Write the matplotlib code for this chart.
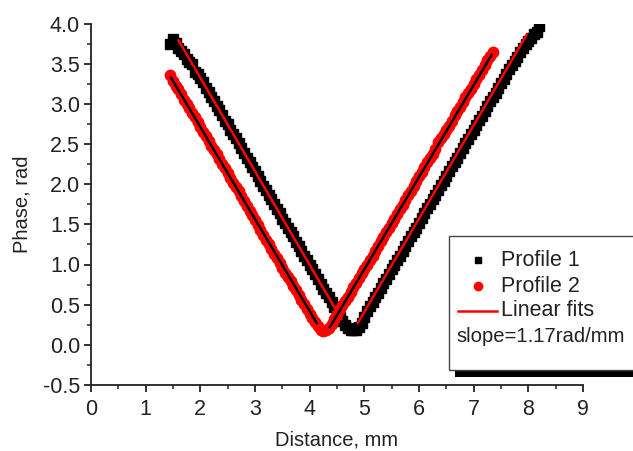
import numpy as np
import matplotlib
matplotlib.use("Agg")
import matplotlib.pyplot as plt
from matplotlib.lines import Line2D
from matplotlib.patches import Rectangle

plt.rcParams['font.family'] = ['Liberation Sans', 'DejaVu Sans']

# ---------------- data ----------------
# Profile 1 (black squares): sampled every 0.05 mm starting at 1.45 mm
p1_x_start = 1.45
p1_x_step = 0.05
p1_y = [
    3.74, 3.81, 3.76, 3.70, 3.66, 3.62, 3.56, 3.52, 3.49, 3.40,
    3.37, 3.32, 3.27, 3.20, 3.15, 3.09, 3.04, 2.97, 2.92, 2.86,
    2.79, 2.75, 2.68, 2.62, 2.57, 2.51, 2.45, 2.39, 2.33, 2.28,
    2.21, 2.16, 2.10, 2.04, 1.98, 1.93, 1.86, 1.81, 1.75, 1.69,
    1.64, 1.57, 1.52, 1.46, 1.40, 1.35, 1.28, 1.23, 1.17, 1.11,
    1.05, 0.99, 0.94, 0.88, 0.82, 0.76, 0.70, 0.65, 0.59, 0.53,
    0.47, 0.41, 0.35, 0.30, 0.25, 0.21, 0.19, 0.18, 0.19, 0.22,
    0.27,
    0.35, 0.42, 0.48, 0.53, 0.59, 0.65, 0.71, 0.77, 0.82, 0.88,
    0.94, 1.00, 1.06, 1.11, 1.17, 1.23, 1.29, 1.35, 1.41, 1.46,
    1.52, 1.58, 1.64, 1.70, 1.75, 1.81, 1.87, 1.93, 1.99, 2.04,
    2.10, 2.16, 2.22, 2.28, 2.33, 2.39, 2.45, 2.51, 2.56, 2.62,
    2.68, 2.74, 2.80, 2.85, 2.91, 2.97, 3.03, 3.09, 3.14, 3.20,
    3.26, 3.31, 3.37, 3.43, 3.48, 3.53, 3.58, 3.64, 3.69, 3.74,
    3.78, 3.82, 3.87, 3.90, 3.97,
]

# Profile 2 (red circles): sampled every 0.05 mm starting at 1.45 mm
p2_x_start = 1.45
p2_x_step = 0.05
p2_y = [
    3.36, 3.29, 3.22, 3.18, 3.12, 3.05, 3.00, 2.95, 2.89, 2.83,
    2.77, 2.71, 2.65, 2.60, 2.54, 2.48, 2.43, 2.37, 2.31, 2.25,
    2.20, 2.14, 2.08, 2.02, 1.97, 1.91, 1.85, 1.79, 1.73, 1.67,
    1.61, 1.55, 1.49, 1.43, 1.37, 1.31, 1.25, 1.19, 1.13, 1.08,
    1.02, 0.96, 0.90, 0.85, 0.79, 0.73, 0.68, 0.62, 0.56, 0.51,
    0.45, 0.39, 0.34, 0.29, 0.23, 0.19, 0.17, 0.18, 0.21, 0.26,
    0.32, 0.38, 0.44, 0.49, 0.55, 0.60, 0.66, 0.72, 0.77, 0.83,
    0.89, 0.94, 1.00, 1.06, 1.11, 1.17, 1.23, 1.29, 1.34, 1.40,
    1.46, 1.52, 1.57, 1.63, 1.69, 1.74, 1.80, 1.86, 1.92, 1.98,
    2.04, 2.10, 2.15, 2.21, 2.27, 2.32, 2.38, 2.44, 2.52, 2.58,
    2.62, 2.68, 2.73, 2.79, 2.86, 2.91, 2.96, 3.02, 3.09, 3.14,
    3.19, 3.25, 3.31, 3.36, 3.42, 3.48, 3.54, 3.59, 3.64,
]

# Linear fits (segment endpoints, mm / rad)
fit1_left_x = [1.60, 4.58]
fit1_left_y = [3.79, 0.32]
fit1_right_x = [4.88, 7.97]
fit1_right_y = [0.27, 3.86]
fit2_left_x = [1.46, 4.13]
fit2_left_y = [3.33, 0.27]
fit2_right_x = [4.37, 7.33]
fit2_right_y = [0.22, 3.61]

legend_labels = ["Profile 1", "Profile 2", "Linear fits", "slope=1.17rad/mm"]
x_label = "Distance, mm"
y_label = "Phase, rad"

p1_x = np.round(p1_x_start + p1_x_step * np.arange(len(p1_y)), 2)
p2_x = np.round(p2_x_start + p2_x_step * np.arange(len(p2_y)), 2)

# ---------------- figure ----------------
W, H = 633, 451
fig = plt.figure(figsize=(W / 100, H / 100), dpi=100)

def fx(px):
    return px / W

def fy(py):
    return 1 - py / H

TXT = '#222222'
ax = fig.add_axes([fx(91), fy(385), (583 - 91) / W, (385 - 23.5) / H])

ax.plot(p1_x, p1_y, linestyle='none', marker='s', markersize=7,
        color='black', zorder=2)
ax.plot(p2_x, p2_y, linestyle='none', marker='o', markersize=7.5,
        color='red', zorder=3)

for xs, ys, c in [(fit1_left_x, fit1_left_y, 'red'),
                  (fit1_right_x, fit1_right_y, 'red'),
                  (fit2_left_x, fit2_left_y, 'black'),
                  (fit2_right_x, fit2_right_y, 'black')]:
    ax.plot(xs, ys, color=c, lw=1.8, zorder=4)

ax.set_xlim(0, 9)
ax.set_ylim(-0.5, 4.0)
ax.set_xticks(np.arange(0, 10, 1))
ax.set_xticks(np.arange(0.5, 9, 1), minor=True)
ax.set_yticks(np.arange(-0.5, 4.01, 0.5))
ax.set_yticks(np.arange(-0.25, 4.0, 0.5), minor=True)
ax.xaxis.set_major_formatter(matplotlib.ticker.FormatStrFormatter('%d'))
ax.yaxis.set_major_formatter(matplotlib.ticker.FormatStrFormatter('%.1f'))

for s in ['top', 'right']:
    ax.spines[s].set_visible(False)
for s in ['left', 'bottom']:
    ax.spines[s].set_linewidth(1.3)
    ax.spines[s].set_color(TXT)

ax.tick_params(which='major', direction='out', length=5, width=1.3,
               labelsize=15.5, colors=TXT, labelcolor=TXT)
ax.tick_params(which='minor', direction='out', length=3, width=1.1,
               colors=TXT)
ax.tick_params(axis='x', which='major', pad=5)
ax.tick_params(axis='y', which='major', pad=3)

fig.text(fx(22), fy(204), y_label, rotation=90, ha='center', va='center',
         fontsize=14.5, color=TXT)
fig.text(fx(337), fy(446), x_label, ha='center', va='baseline',
         fontsize=14.5, color=TXT)

# ---------------- legend (drawn box with black shadow) ----------------
fig.add_artist(Rectangle((fx(455), fy(377)), fx(640) - fx(455), fy(370) - fy(377),
                         transform=fig.transFigure, facecolor='black',
                         edgecolor='none', zorder=5))
fig.add_artist(Rectangle((fx(449), fy(370)), fx(645) - fx(449), fy(236) - fy(370),
                         transform=fig.transFigure, facecolor='white',
                         edgecolor='#444444', lw=1.0, zorder=6))

fig.add_artist(Line2D([fx(478)], [fy(260)], transform=fig.transFigure,
                      marker='s', markersize=5, color='black',
                      linestyle='none', zorder=7))
fig.add_artist(Line2D([fx(478)], [fy(286)], transform=fig.transFigure,
                      marker='o', markersize=6, color='red',
                      linestyle='none', zorder=7))
fig.add_artist(Line2D([fx(458), fx(497)], [fy(311), fy(311)],
                      transform=fig.transFigure, color='red', lw=1.8,
                      zorder=7))
LFS = 15.5
fig.text(fx(501), fy(260), legend_labels[0], ha='left', va='center',
         fontsize=LFS, color=TXT, zorder=7)
fig.text(fx(501), fy(286), legend_labels[1], ha='left', va='center',
         fontsize=LFS, color=TXT, zorder=7)
fig.text(fx(501), fy(311), legend_labels[2], ha='left', va='center',
         fontsize=LFS, color=TXT, zorder=7)
fig.text(fx(456), fy(337), legend_labels[3], ha='left', va='center',
         fontsize=14.6, color=TXT, zorder=7)

fig.savefig("out.png", dpi=100)
